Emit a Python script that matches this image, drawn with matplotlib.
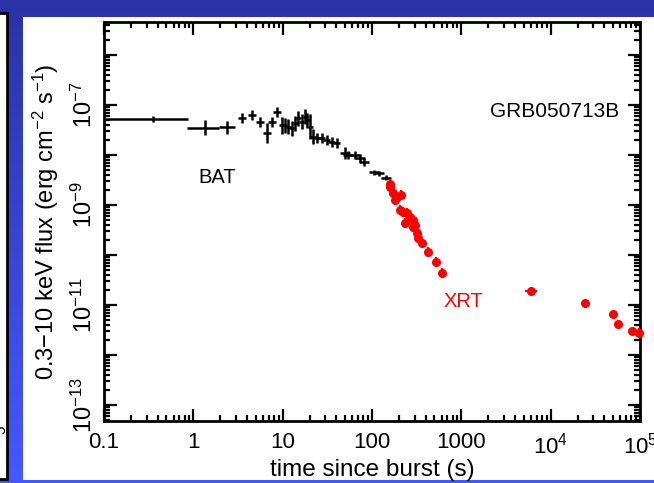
import numpy as np
import matplotlib
matplotlib.use('Agg')
import matplotlib.pyplot as plt
from matplotlib.patches import Rectangle
from matplotlib.ticker import FixedLocator, FixedFormatter, LogLocator, NullFormatter

plt.rcParams['font.family'] = 'Liberation Sans'
plt.rcParams['mathtext.fontset'] = 'custom'
plt.rcParams['mathtext.rm'] = 'Liberation Sans'
plt.rcParams['mathtext.it'] = 'Liberation Sans'

# ============ DATA ============
# BAT (black crosses): time (s), flux (erg cm^-2 s^-1)
bat_t = [0.354, 1.35, 2.38, 3.48, 4.51, 5.58, 6.64, 7.55, 8.59, 9.77, 10.6,
         11.6, 12.6, 13.8, 15.0, 16.4, 17.8, 18.9, 20.3, 22.1, 24.5, 27.4,
         31.2, 35.5, 40.4, 49.9, 54.4, 64.7, 73.6, 81.5, 105, 120, 144]
bat_tlo = [0.1, 0.86, 1.96]
bat_thi = [0.873, 1.96, 2.93]
bat_f = [5.25e-8, 3.52e-8, 3.63e-8, 5.42e-8, 6.31e-8, 4.63e-8, 2.72e-8,
         4.63e-8, 7.35e-8, 3.98e-8, 3.98e-8, 3.68e-8, 3.42e-8, 4.31e-8,
         5.42e-8, 4.63e-8, 5.83e-8, 5.01e-8, 3.68e-8, 2.32e-8, 2.16e-8,
         2.16e-8, 2.0e-8, 1.85e-8, 1.74e-8, 1.08e-8, 1.0e-8, 1.0e-8, 8.6e-9,
         7.35e-9, 4.57e-9, 4.31e-9, 3.55e-9]
# half-width of the time bins (dex) for points after the first three
bat_tw = [0.045] * 6 + [0.028] * 10 + [0.04] * 6 + [0.056] * 8
bat_ferr = [0.06, 0.15, 0.13, 0.1, 0.1, 0.1, 0.2, 0.1, 0.1, 0.17, 0.15,
            0.15, 0.15, 0.15, 0.15, 0.15, 0.15, 0.15, 0.25, 0.15, 0.1, 0.1,
            0.1, 0.1, 0.1, 0.12, 0.08, 0.08, 0.08, 0.08, 0.05, 0.05, 0.05]

# XRT (red points)
xrt_t = [157, 160, 174, 181, 189, 210, 207, 225, 235, 245, 267, 291, 291,
         304, 317, 331, 361, 428, 522, 605, 6000, 24500, 49700, 56000,
         81000, 98700]
xrt_f = [2.63e-9, 2.32e-9, 1.71e-9, 1.26e-9, 1.47e-9, 1.58e-9, 7.9e-10,
         7.35e-10, 4.31e-10, 6.8e-10, 5.83e-10, 5.0e-10, 3.68e-10, 3.98e-10,
         2.72e-10, 2.16e-10, 1.71e-10, 1.16e-10, 7.35e-11, 4.31e-11, 1.93e-11,
         1.11e-11, 6.5e-12, 4.1e-12, 3.06e-12, 2.72e-12]
xrt_tw = [0.01] * 20 + [0.07, 0.01, 0.01, 0.01, 0.01, 0.01]
xrt_ferr = [0.1] * 20 + [0.03, 0.03, 0.04, 0.04, 0.05, 0.1]

xticks = [0.1, 1, 10, 100, 1000, 1e4, 1e5]
xtick_labels = ['0.1', '1', '10', '100', '1000', r'$10^4$', r'$10^5$']
yticks = [10.0 ** k for k in range(-13, -5)]
ytick_labels = [r'$10^{%d}$' % k if k % 2 else '' for k in range(-13, -5)]


def dex_err(v, d):
    v = np.asarray(v, float)
    d = np.asarray(d, float)
    return np.vstack([v - v * 10 ** -d, v * 10 ** d - v])


W, H = 654, 483
fig = plt.figure(figsize=(W / 100, H / 100), dpi=100)

# slide background: blue gradient
bg = fig.add_axes([0, 0, 1, 1], zorder=-10)
grad = np.linspace(0, 1, 256)[:, None]
top_c = np.array([0x2b, 0x32, 0xa6]) / 255
bot_c = np.array([0x45, 0x58, 0xff]) / 255
img = top_c[None, None, :] * (1 - grad[..., None]) + bot_c[None, None, :] * grad[..., None]
bg.imshow(np.repeat(img, 2, axis=1), aspect='auto', extent=[0, 1, 0, 1])
bg.set_axis_off()


def px_rect(x0, y0, x1, y1, **kw):
    return Rectangle((x0 / W, 1 - y1 / H), (x1 - x0) / W, (y1 - y0) / H,
                     transform=fig.transFigure, **kw)


fig.patches.append(px_rect(23, 17, 654, 480, facecolor='white', edgecolor='none', zorder=-5))
fig.patches.append(px_rect(-5, 13, 7, 479, facecolor='white', edgecolor='black',
                           linewidth=2, zorder=-5))
fig.text(1 / W, 1 - 430 / H, '5', rotation=90, fontsize=11, ha='center', va='center')

ax = fig.add_axes([104 / W, 1 - 421 / H, (640 - 104) / W, (421 - 22) / H])
ax.set_xscale('log')
ax.set_yscale('log')

# BAT crosses
bt = np.array(bat_t)
tlo = np.concatenate([bat_tlo, bt[3:] * 10 ** -np.array(bat_tw)])
thi = np.concatenate([bat_thi, bt[3:] * 10 ** np.array(bat_tw)])
ax.errorbar(bt, bat_f, xerr=[bt - tlo, thi - bt], yerr=dex_err(bat_f, bat_ferr),
            fmt='none', ecolor='black', elinewidth=1.8, capsize=0)

# XRT points
ax.errorbar(xrt_t, xrt_f, xerr=dex_err(xrt_t, xrt_tw), yerr=dex_err(xrt_f, xrt_ferr),
            fmt='o', color='red', ms=5.5, mec='red', ecolor='red', elinewidth=1.6,
            capsize=0, clip_on=False, zorder=3)

ax.set_xlim(0.1, 1e5)
ax.set_ylim(4.8e-14, 4.6e-6)

ax.xaxis.set_major_locator(FixedLocator(xticks))
ax.xaxis.set_major_formatter(FixedFormatter(xtick_labels))
ax.xaxis.set_minor_locator(LogLocator(base=10, subs=np.arange(2, 10), numticks=20))
ax.xaxis.set_minor_formatter(NullFormatter())
ax.yaxis.set_major_locator(FixedLocator(yticks))
ax.yaxis.set_major_formatter(FixedFormatter(ytick_labels))
ax.yaxis.set_minor_locator(LogLocator(base=10, subs=np.arange(2, 10), numticks=20))
ax.yaxis.set_minor_formatter(NullFormatter())

ax.tick_params(which='both', direction='in', top=True, right=True, width=1.6)
ax.tick_params(which='major', length=9)
ax.tick_params(which='minor', length=4.5)
ax.tick_params(axis='x', labelsize=16, pad=8)
ax.tick_params(axis='y', labelsize=17, pad=5)
for lab in ax.get_yticklabels():
    lab.set_rotation(90)
    lab.set_va('center')
for s in ax.spines.values():
    s.set_linewidth(2)

ax.set_xlabel('time since burst (s)', fontsize=17.5, labelpad=1)
ax.set_ylabel(r'0.3$-$10 keV flux (erg cm$^{-2}$ s$^{-1}$)', fontsize=17, labelpad=8)

ax.text(1.84, 3.6e-9, 'BAT', fontsize=14.5, ha='center', va='center')
ax.text(1050, 1.2e-11, 'XRT', fontsize=14.5, color='red', ha='center', va='center')
ax.text(5.85e4, 7.6e-8, 'GRB050713B', fontsize=15, ha='right', va='center')

fig.savefig('out.png', dpi=100)
